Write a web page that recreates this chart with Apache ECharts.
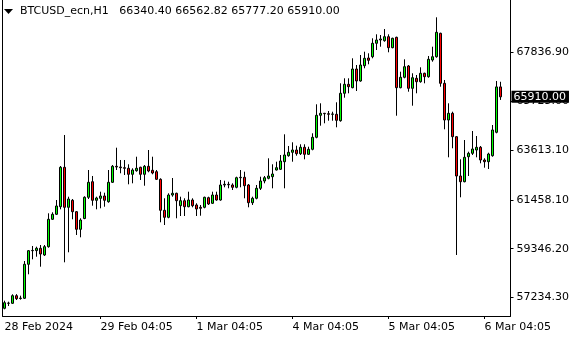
<!DOCTYPE html>
<html><head><meta charset="utf-8">
<script src="https://cdn.jsdelivr.net/npm/echarts@6/dist/echarts.min.js"></script>
<style>html,body{margin:0;padding:0;background:#fff;}#c{width:580px;height:340px;}</style>
</head><body><div id="c"></div>
<script>
const symbolName = 'BTCUSD_ecn,H1';
const opens = [56767,56990,56983,57312,57190,57200,58670,59258,59262,59362,59072,59431,60616,60832,61160,62864,61134,61437,60944,60183,
60650,61567,62241,61437,61523,61623,61377,62215,62907,62877,62847,62821,62561,62717,62864,62561,62907,62734,62674,62345,
61005,60702,61666,61740,61204,61420,61160,61450,61234,61134,61134,61550,61307,61666,61450,62099,62129,62099,61999,62414,
62432,62099,61333,61524,61956,62272,62388,62458,62747,62778,63106,63366,63513,63612,63452,63729,63426,63642,64161,65112,
65199,65182,65156,65156,64879,66064,66453,66306,67114,66596,67257,67590,67646,68226,68368,68338,68511,68036,68485,66306,
66756,67244,66280,66712,66565,66929,66782,67504,67646,68658,66496,64909,65199,64187,62488,62241,63322,63469,63612,63729,
63180,63106,63366,64377,66340.40];
const highs = [57096,57053,57373,57380,57312,58812,59288,59461,59431,59504,59504,60875,60918,61450,62920,64261,61593,61493,60974,60659,
61610,62747,62488,61593,61809,61766,62747,62963,63712,63180,63180,62994,62821,63322,62890,62963,63612,63322,62747,62388,
61524,61740,62401,61766,61593,61524,61809,61524,61307,61234,61593,61593,61809,61809,62315,62285,62241,62172,62458,62747,
62674,62142,61593,62099,62458,62488,63253,62994,63106,63396,64291,63785,63945,63798,63859,63859,63755,64334,65588,65631,
65215,65298,65268,65675,66496,66712,66712,67577,67287,67720,67863,67793,68442,68615,68585,68844,68615,68468,68511,66998,
67534,67287,66929,66855,67188,66955,67677,68079,69350,68684,66639,65631,65268,64217,63210,64044,63539,64434,64217,63785,
63253,63495,64693,66596,66562.82];
const lows = [56724,56867,56953,57126,57140,57169,58237,58886,58998,58566,59029,59388,60585,60801,61048,58756,59189,60616,59937,59837,
60620,61493,61204,61048,61091,61160,61333,62185,62747,62605,62531,62129,62172,62674,62315,62068,62648,62561,62315,60486,
60369,60659,61593,60659,60758,60758,61134,61134,60758,60771,61091,61234,61277,61420,61420,61999,61956,61882,61956,61999,
61524,61134,61234,61480,61882,62172,62345,61956,62726,62747,61956,63322,63106,63366,63396,63210,63396,63599,64118,64663,
64767,64879,64879,64594,64836,65874,66064,66280,66163,66565,67145,67318,67577,67936,68079,68295,67837,68010,65095,66280,
66712,66133,65528,66064,66522,66496,66738,67430,67603,66349,64507,63296,63686,59072,61567,62215,62488,63396,63296,63037,
62847,62790,63322,64334,65777.20];
const closes = [57009,56983,57312,57182,57210,58670,59258,59270,59362,59115,59431,60616,60832,61191,62864,61134,61493,60944,60183,60585,
61567,62215,61437,61537,61623,61437,62215,62907,62877,62847,62821,62561,62747,62821,62561,62907,62704,62618,62345,61005,
60702,61666,61740,61420,61420,61160,61450,61204,61061,61091,61567,61277,61666,61450,62099,62129,62110,61999,62414,62432,
62068,61333,61524,61956,62272,62414,62488,62574,62847,63136,63396,63513,63612,63452,63729,63426,63642,64161,65112,65199,
65182,65156,65170,64896,66064,66453,66349,67114,66596,67287,67577,67491,68226,68368,68412,68511,68036,68442,66306,66756,
67214,66280,66738,66565,66929,66782,67534,67646,68701,66496,64909,65199,64187,62488,62241,63296,63469,63655,63729,63180,
63106,63439,64477,66340.40,65910.00];
const emptySlots = 2;
const xTickIndex = [0, 24, 48, 72, 96, 120];
const xTickLabels = ['28 Feb 2024', '29 Feb 04:05', '1 Mar 04:05', '4 Mar 04:05', '5 Mar 04:05', '6 Mar 04:05'];
const yTickValues = [57234.30, 59346.20, 61458.10, 63613.10, 65725.00, 67836.90];
const yMin = 56434.2, yMax = 70098;

const n = opens.length;
const categories = [];
for (let i = 0; i < n + emptySlots; i++) categories.push(String(i));
const candles = opens.map((o, i) => [o, closes[i], lows[i], highs[i]]);
const last = n - 1;
const lastPrice = closes[last];
const titleText = symbolName + '   ' + [opens[last], highs[last], lows[last], closes[last]].map(v => v.toFixed(2)).join(' ');
const FONT = 'DejaVu Sans';

const chart = echarts.init(document.getElementById('c'), null, {renderer: 'canvas'});
chart.setOption({
  animation: false,
  backgroundColor: '#fff',
  title: {text: titleText, left: 20, top: 6, padding: 0,
    textStyle: {fontSize: 11, fontWeight: 'normal', fontFamily: FONT, color: '#000'}},
  graphic: [{type: 'polygon', shape: {points: [[4, 9], [13, 9], [8.5, 14]]}, style: {fill: '#000'}}],
  grid: {left: 2.5, right: 69.5, top: 0, bottom: 24, containLabel: false, outerBoundsMode: 'none'},
  xAxis: {
    type: 'category', data: categories, boundaryGap: true,
    axisLine: {show: true, onZero: false, lineStyle: {color: '#000', width: 1}},
    axisTick: {show: true, alignWithLabel: true, length: 3, interval: (i) => xTickIndex.indexOf(i) > 0, lineStyle: {color: '#000'}},
    axisLabel: {interval: (i) => xTickIndex.indexOf(i) >= 0, formatter: (v, i) => xTickLabels[xTickIndex.indexOf(i)] || '',
      align: 'left', color: '#000', fontSize: 11, fontFamily: FONT, margin: 6},
    splitLine: {show: false}
  },
  yAxis: [{
    type: 'value', position: 'right', min: yMin, max: yMax, scale: true,
    splitLine: {show: false},
    axisLine: {show: true, lineStyle: {color: '#000', width: 1}},
    axisTick: {show: true, length: 3, customValues: yTickValues, lineStyle: {color: '#000'}},
    axisLabel: {customValues: yTickValues, formatter: (v) => v.toFixed(2), color: '#000', fontSize: 11, fontFamily: FONT, margin: 6}
  }, {
    type: 'value', position: 'left', min: yMin, max: yMax, scale: true,
    splitLine: {show: false},
    axisLine: {show: true, lineStyle: {color: '#000', width: 1}},
    axisTick: {show: false}, axisLabel: {show: false}
  }],
  series: [{
    type: 'candlestick', data: candles, barWidth: 2, yAxisIndex: 0,
    itemStyle: {color: '#00ff00', color0: '#ff0000', borderColor: '#000', borderColor0: '#000', borderWidth: 1},
    markLine: {
      silent: true, symbol: ['none', 'none'], animation: false,
      data: [{yAxis: lastPrice}],
      lineStyle: {color: 'rgba(0,0,0,0)', width: 0},
      label: {show: true, position: 'end', distance: 1, formatter: () => lastPrice.toFixed(2),
        backgroundColor: '#000', color: '#fff', padding: [1, 3, 0, 2], fontSize: 11, fontFamily: FONT}
    }
  }]
});
</script></body></html>
